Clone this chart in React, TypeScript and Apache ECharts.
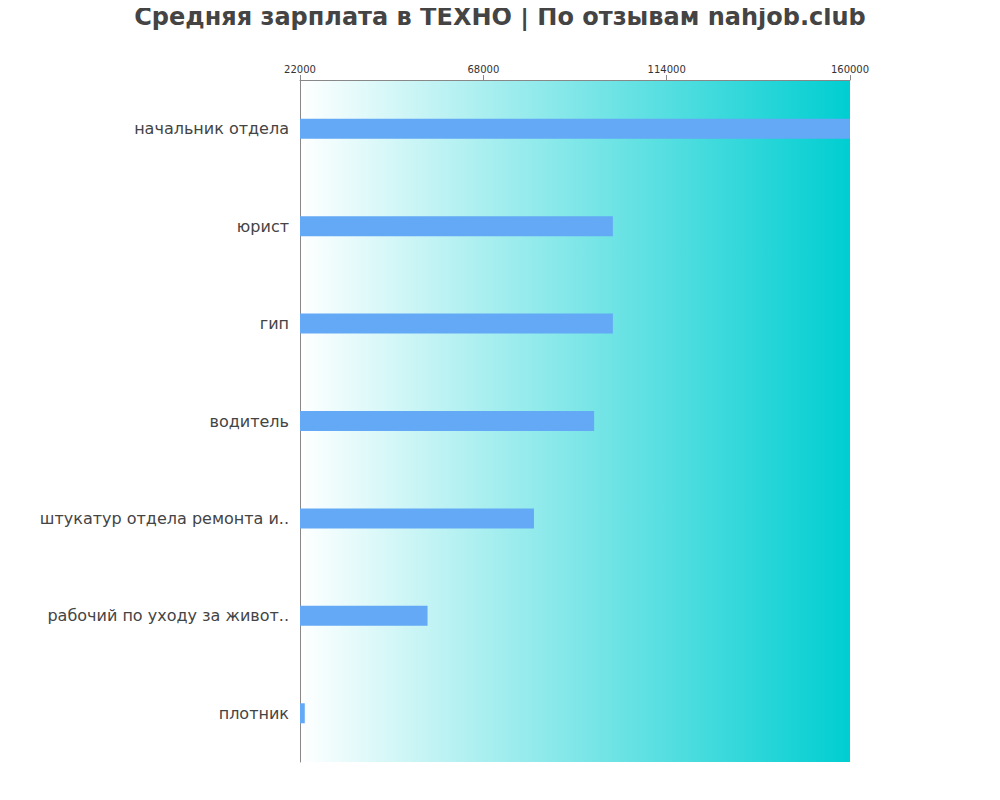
import React, { useEffect, useRef } from "react";
import * as echarts from "echarts";

const titleText = "Средняя зарплата в ТЕХНО | По отзывам nahjob.club";
const categories = [
  "начальник отдела",
  "юрист",
  "гип",
  "водитель",
  "штукатур отдела ремонта и..",
  "рабочий по уходу за живот..",
  "плотник",
];
const salaries = [160000, 100500, 100500, 95800, 80700, 54000, 23200];
const axisMin = 22000;
const axisMax = 160000;
const axisInterval = 46000;

export default function App() {
  const ref = useRef<HTMLDivElement>(null);
  useEffect(() => {
    if (!ref.current) return;
    const chart = echarts.init(ref.current, null, { renderer: "svg" });
    chart.setOption({
      animation: false,
      textStyle: { fontFamily: "DejaVu Sans" },
      title: {
        text: titleText,
        left: "center",
        top: 0,
        textStyle: { fontSize: 24, fontWeight: "bold", color: "#444444", fontFamily: "DejaVu Sans" },
      },
      grid: {
        left: 300,
        right: 150,
        top: 80,
        bottom: 38,
        show: true,
        borderWidth: 0,
        backgroundColor: new echarts.graphic.LinearGradient(0, 0, 1, 0, [
          { offset: 0, color: "#ffffff" },
          { offset: 1, color: "#00CED1" },
        ]),
      },
      xAxis: {
        type: "value",
        position: "top",
        min: axisMin,
        max: axisMax,
        interval: axisInterval,
        splitLine: { show: false },
        axisLine: { show: true, lineStyle: { color: "#888888" } },
        axisTick: { show: true, length: 5, lineStyle: { color: "#888888" } },
        axisLabel: { color: "#333333", fontSize: 10, margin: 6, formatter: (v: number) => String(v) },
      },
      yAxis: {
        type: "category",
        data: categories,
        inverse: true,
        axisLine: { show: true, lineStyle: { color: "#888888" } },
        axisTick: { show: false },
        axisLabel: { color: "#444444", fontSize: 16, margin: 11, padding: [0, 0, 4, 0] },
      },
      series: [
        {
          type: "bar",
          data: salaries,
          barWidth: 20,
          itemStyle: { color: "#63A9F5" },
        },
      ],
    });
    return () => chart.dispose();
  }, []);
  return <div ref={ref} style={{ width: 1000, height: 800, margin: -8 }} />;
}
